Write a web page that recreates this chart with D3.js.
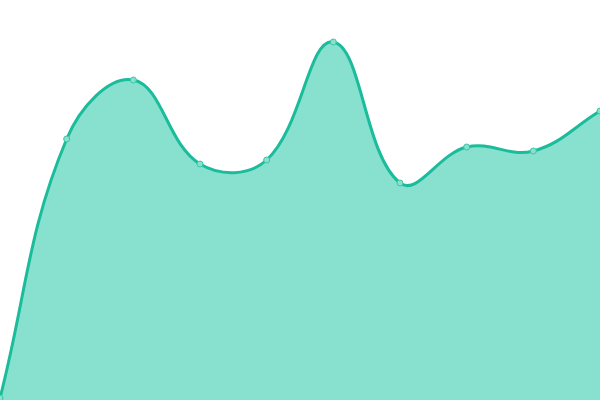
<!DOCTYPE html>
<html>
<head>
<meta charset="utf-8">
<script src="https://cdn.jsdelivr.net/npm/d3@7"></script>
<style>
  body { margin: 0; background: #fff; }
  svg { display: block; }
</style>
</head>
<body>
<div id="chart"></div>
<script>
const labels = [0, 1, 2, 3, 4, 5, 6, 7, 8, 9];
const values = [2, 261, 320, 236, 240, 358, 217, 253, 249, 289];

const fullWidth = 600;
const fullHeight = 400;

// spline with tension, control points weighted by distance to neighbours
function TensionCurve(context, tension) {
  this._context = context;
  this._t = tension;
}
TensionCurve.prototype = {
  areaStart() { this._line = 0; },
  areaEnd() { this._line = NaN; },
  lineStart() { this._pts = []; },
  point(x, y) { this._pts.push([+x, +y]); },
  lineEnd() {
    const p = this._pts, n = p.length, c = this._context, t = this._t;
    if (n) {
      this._line ? c.lineTo(p[0][0], p[0][1]) : c.moveTo(p[0][0], p[0][1]);
      const cps = p.map((cur, i) => {
        const prev = p[i - 1] || cur, next = p[i + 1] || cur;
        const d01 = Math.hypot(cur[0] - prev[0], cur[1] - prev[1]);
        const d12 = Math.hypot(next[0] - cur[0], next[1] - cur[1]);
        let s01 = d01 / (d01 + d12), s12 = d12 / (d01 + d12);
        if (isNaN(s01)) s01 = 0;
        if (isNaN(s12)) s12 = 0;
        const fa = t * s01, fb = t * s12;
        return {
          before: [cur[0] - fa * (next[0] - prev[0]), cur[1] - fa * (next[1] - prev[1])],
          after: [cur[0] + fb * (next[0] - prev[0]), cur[1] + fb * (next[1] - prev[1])]
        };
      });
      for (let i = 1; i < n; i++) {
        const a = cps[i - 1].after, b = cps[i].before;
        c.bezierCurveTo(a[0], a[1], b[0], b[1], p[i][0], p[i][1]);
      }
    }
    if (this._line || (this._line !== 0 && n === 1)) c.closePath();
    this._line = 1 - this._line;
  }
};
const curveTension = ctx => new TensionCurve(ctx, 0.4);

const svg = d3.select("#chart")
              .append("svg")
              .attr("width", fullWidth)
              .attr("height", fullHeight);

const xScale = d3.scalePoint()
                 .domain(labels)
                 .range([0, fullWidth]);

const yScale = d3.scaleLinear()
                 .domain([0, 400])
                 .range([fullHeight, 0]);

const data = labels.map((l, i) => ({ label: l, value: values[i] }));

const area = d3.area()
               .x(d => xScale(d.label))
               .y0(fullHeight)
               .y1(d => yScale(d.value))
               .curve(curveTension);

const line = d3.line()
               .x(d => xScale(d.label))
               .y(d => yScale(d.value))
               .curve(curveTension);

svg.append("path")
   .datum(data)
   .attr("d", area)
   .attr("fill", "#88e0ce");

svg.append("path")
   .datum(data)
   .attr("d", line)
   .attr("fill", "none")
   .attr("stroke", "#1abc9c")
   .attr("stroke-width", 3);

svg.selectAll("circle.pt")
   .data(data)
   .enter()
   .append("circle")
   .classed("pt", true)
   .attr("cx", d => xScale(d.label))
   .attr("cy", d => yScale(d.value))
   .attr("r", 3)
   .attr("fill", "#88e0ce")
   .attr("stroke", "#3cc6a8")
   .attr("stroke-width", 1);
</script>
</body>
</html>
